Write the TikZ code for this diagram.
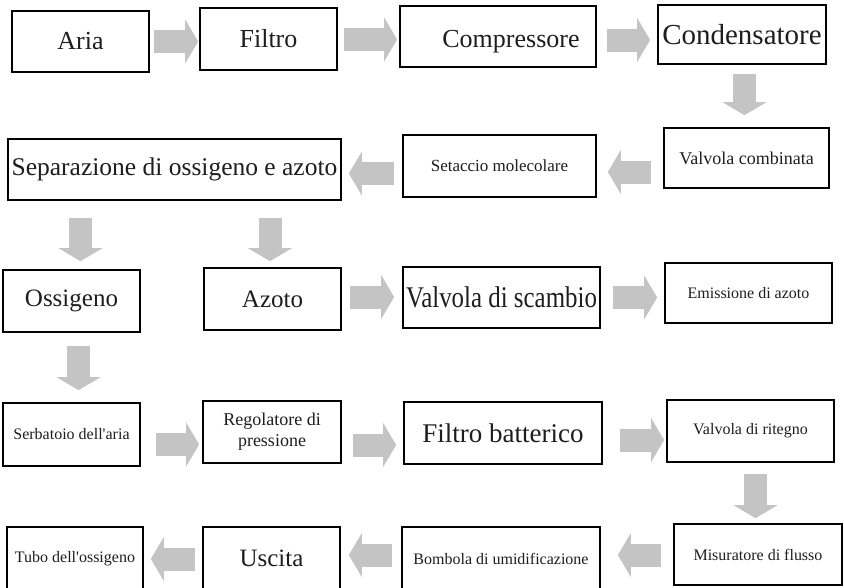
\documentclass[tikz,border=0pt]{standalone}
\usepackage{fontspec}
\setmainfont{Liberation Serif}[Ligatures=TeXOff]
\usetikzlibrary{arrows.meta}
\definecolor{arrowgray}{RGB}{196,196,196}
\definecolor{txt}{RGB}{30,30,30}
\newcommand{\fs}[1]{\fontsize{#1}{#1}\selectfont}
\begin{document}
\begin{tikzpicture}[x=1pt,y=-1pt,
  blockbox/.style={draw=black, line width=1.7pt, inner sep=0pt, align=center, text=txt, minimum width=#1},
  blockbox/.default=137pt,
  barrow/.style={draw=arrowgray, line width=23pt, -{Triangle[width=44pt,length=13pt,line width=0pt]}}]
\useasboundingbox (0,0) rectangle (844,587);
\clip (0,0) rectangle (844,587);
\fill[white] (0,0) rectangle (844,587);
% row 1
\node[blockbox=137pt, minimum height=61pt] (aria) at (80.5,41.5) {\fs{26}Aria};
\node[blockbox=137pt, minimum height=62pt] (filtro) at (268.5,39) {\fs{26}Filtro};
\node[blockbox=196pt, minimum height=61pt] (compr) at (498,36.5) {\hspace*{26pt}\fs{26}\rule{0pt}{28pt}Compressore};
\node[blockbox=168pt, minimum height=59pt] (cond) at (742,34.5) {\fs{29}Condensatore};
% row 2
\node[blockbox=165pt, minimum height=60pt] (valcomb) at (746.5,158) {\fs{18}Valvola combinata};
\node[blockbox=193pt, minimum height=62pt] (setaccio) at (499.5,166) {\fs{17}Setaccio molecolare};
\node[blockbox=333pt, minimum height=61pt] (separ) at (174.5,169.5) {\fs{25.5}Separazione di ossigeno e azoto};
% row 3
\node[blockbox=137pt, minimum height=62pt] (ossigeno) at (71.5,301) {\fs{25}Ossigeno};
\node[blockbox=137pt, minimum height=62pt] (azoto) at (272.5,299) {\fs{25}Azoto};
\node[blockbox=197pt, minimum height=61pt] (valscamb) at (501.5,297.5) {\scalebox{0.83}[1]{\fs{30}Valvola di scambio}};
\node[blockbox=167pt, minimum height=60pt] (emiss) at (748.5,293) {\fs{16}Emissione di azoto};
% row 4
\node[blockbox=137pt, minimum height=63pt] (serb) at (71.5,434.5) {\fs{16}Serbatoio dell'aria};
\node[blockbox=138pt, minimum height=62pt, font=\fontsize{18}{21}\selectfont] (regol) at (272,432) {Regolatore di\\pressione};
\node[blockbox=198pt, minimum height=62pt] (filtbat) at (503,433) {\fs{27}Filtro batterico};
\node[blockbox=167pt, minimum height=62pt] (valrit) at (750.5,431) {\fs{16}Valvola di ritegno};
% row 5
\node[blockbox=168pt, minimum height=61pt] (misur) at (758,554.5) {\fs{16}Misuratore di flusso};
\node[blockbox=198pt, minimum height=63pt] (bombola) at (501,558.5) {\fs{16}Bombola di umidificazione};
\node[blockbox=137pt, minimum height=63pt] (uscita) at (271.5,558.5) {\fs{25}Uscita};
\node[blockbox=136pt, minimum height=63pt] (tubo) at (75,558.5) {\fs{16}Tubo dell'ossigeno};
% arrows
\draw[barrow] ([shift={(4,0)}]aria.east) -- ([shift={(-1,2.5)}]filtro.west);
\draw[barrow] ([shift={(6,0.5)}]filtro.east) -- ([shift={(-2,3)}]compr.west);
\draw[barrow] ([shift={(10,3.5)}]compr.east) -- ([shift={(-7,5.5)}]cond.west);
\draw[barrow] ([shift={(2.5,9)}]cond.south) -- ([shift={(-2,-12)}]valcomb.north);
\draw[barrow] ([shift={(-12,14)}]valcomb.west) -- ([shift={(11,6)}]setaccio.east);
\draw[barrow] ([shift={(-8,7.5)}]setaccio.west) -- ([shift={(7,4)}]separ.east);
\draw[barrow] ([shift={(-94,17)}]separ.south) -- ([shift={(9,-8)}]ossigeno.north);
\draw[barrow] ([shift={(95.5,17)}]separ.south) -- ([shift={(-2.5,-6)}]azoto.north);
\draw[barrow] ([shift={(8,-2)}]azoto.east) -- ([shift={(-8,-0.5)}]valscamb.west);
\draw[barrow] ([shift={(12,0)}]valscamb.east) -- ([shift={(-7,4.5)}]emiss.west);
\draw[barrow] ([shift={(7,13)}]ossigeno.south) -- ([shift={(7,-12)}]serb.north);
\draw[barrow] ([shift={(15,10)}]serb.east) -- ([shift={(-3,12.5)}]regol.west);
\draw[barrow] ([shift={(11,13)}]regol.east) -- ([shift={(-7,12)}]filtbat.west);
\draw[barrow] ([shift={(17,7)}]filtbat.east) -- ([shift={(-2,9)}]valrit.west);
\draw[barrow] ([shift={(5,11)}]valrit.south) -- ([shift={(-2.5,-5)}]misur.north);
\draw[barrow] ([shift={(-12,0.5)}]misur.west) -- ([shift={(17,-3.5)}]bombola.east);
\draw[barrow] ([shift={(-9,-3.5)}]bombola.west) -- ([shift={(8,-3.5)}]uscita.east);
\draw[barrow] ([shift={(-7,0.5)}]uscita.west) -- ([shift={(7,0.5)}]tubo.east);
\end{tikzpicture}
\end{document}
